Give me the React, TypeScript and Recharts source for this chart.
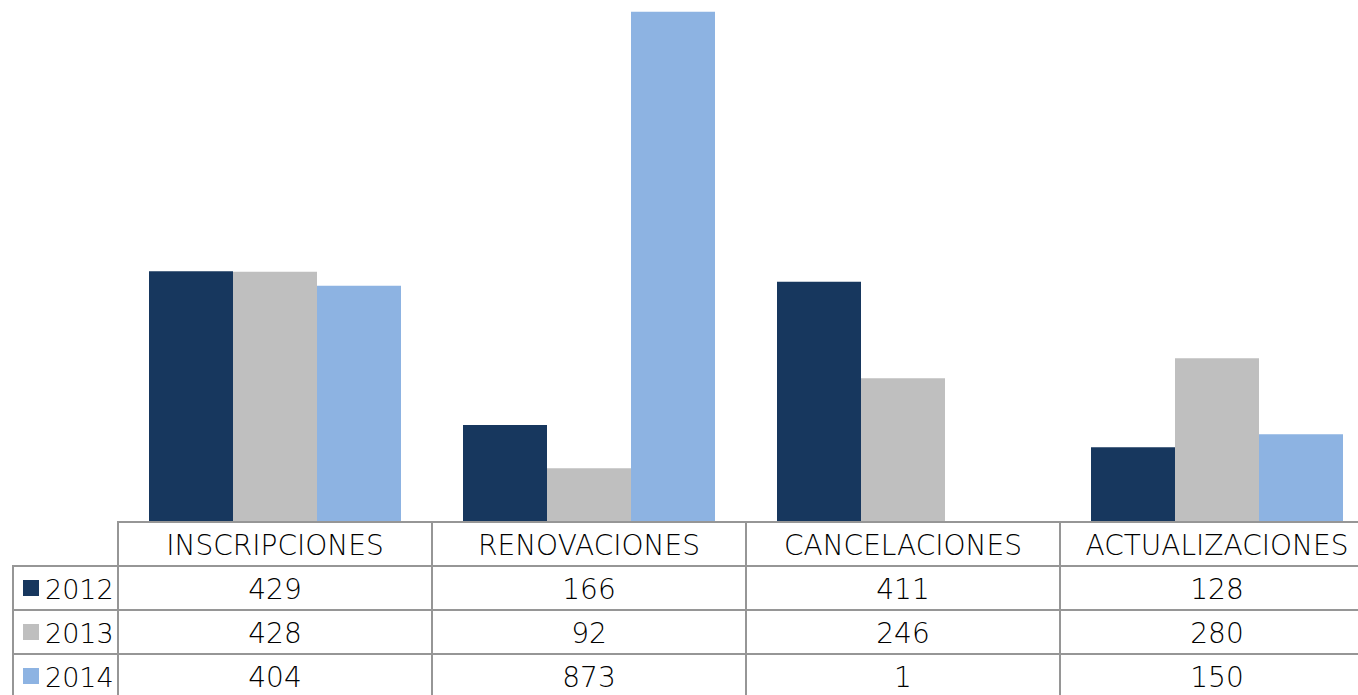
import React from 'react';
import { BarChart, Bar, XAxis, YAxis } from 'recharts';

const categories = ['INSCRIPCIONES', 'RENOVACIONES', 'CANCELACIONES', 'ACTUALIZACIONES'];
const years = ['2012', '2013', '2014'];
const values2012 = [429, 166, 411, 128];
const values2013 = [428, 92, 246, 280];
const values2014 = [404, 873, 1, 150];
const colors = ['#17375E', '#BFBFBF', '#8DB3E2'];

const seriesValues = [values2012, values2013, values2014];
const seriesKeys = ['y2012', 'y2013', 'y2014'];

const data = categories.map((c, i) => ({
  name: c,
  y2012: values2012[i],
  y2013: values2013[i],
  y2014: values2014[i],
}));

const CHART_W = 1374;
const CHART_H = 698;
const MARGIN_LEFT = 118;
const ROW_H = 44;
const CELL_W = (CHART_W - MARGIN_LEFT) / categories.length;
const LABEL_X = 13;
const LINE = '#969696';
const FONT = '"DejaVu Sans", "Liberation Sans", Arial, sans-serif';
const FONT_SIZE = 28;
const LABEL_FONT_SIZE = 27;
const FONT_WEIGHT = 200;

const HeaderTick = (props: any) => {
  const { x, y, payload } = props;
  const left = x - CELL_W / 2;
  return (
    <g>
      <rect x={left} y={y} width={CELL_W} height={ROW_H} fill="none" stroke={LINE} strokeWidth={2} />
      <text x={x} y={y + 33} textAnchor="middle" fontFamily={FONT} fontWeight={FONT_WEIGHT} fontSize={FONT_SIZE} fill="#000">
        {payload.value}
      </text>
    </g>
  );
};

const makeValueTick = (row: number) => (props: any) => {
  const { x, y, payload } = props;
  const idx = payload.index ?? categories.indexOf(payload.value);
  const left = x - CELL_W / 2;
  return (
    <g>
      {idx === 0 && (
        <g>
          <rect x={LABEL_X} y={y} width={left - LABEL_X} height={ROW_H} fill="none" stroke={LINE} strokeWidth={2} />
          <rect x={23} y={y + 14} width={16} height={16} fill={colors[row]} />
          <text x={45} y={y + 33} fontFamily={FONT} fontWeight={FONT_WEIGHT} fontSize={LABEL_FONT_SIZE} fill="#000">
            {years[row]}
          </text>
        </g>
      )}
      <rect x={left} y={y} width={CELL_W} height={ROW_H} fill="none" stroke={LINE} strokeWidth={2} />
      <text x={x} y={y + 33} textAnchor="middle" fontFamily={FONT} fontWeight={FONT_WEIGHT} fontSize={FONT_SIZE} fill="#000">
        {seriesValues[row][idx]}
      </text>
    </g>
  );
};

const valueTicks = years.map((_, r) => makeValueTick(r));

export default function App() {
  return (
    <div style={{ position: 'absolute', left: 0, top: 0, width: 1358, height: 695, overflow: 'hidden', background: '#fff' }}>
      <BarChart
        width={CHART_W}
        height={CHART_H}
        data={data}
        margin={{ top: 0, right: 0, bottom: 0, left: MARGIN_LEFT }}
        barCategoryGap={31}
        barGap={0}
      >
        <XAxis
          xAxisId="cat"
          dataKey="name"
          height={ROW_H}
          axisLine={false}
          tickLine={false}
          tickSize={0}
          tickMargin={0}
          interval={0}
          tick={<HeaderTick />}
        />
        {years.map((yr, r) => (
          <XAxis
            key={yr}
            xAxisId={`row${yr}`}
            dataKey="name"
            height={ROW_H}
            axisLine={false}
            tickLine={false}
            tickSize={0}
            tickMargin={0}
            interval={0}
            tick={valueTicks[r]}
          />
        ))}
        <YAxis hide domain={[0, 893]} />
        {seriesKeys.map((k, i) => (
          <Bar key={k} xAxisId="cat" dataKey={k} fill={colors[i]} isAnimationActive={false} />
        ))}
      </BarChart>
    </div>
  );
}
